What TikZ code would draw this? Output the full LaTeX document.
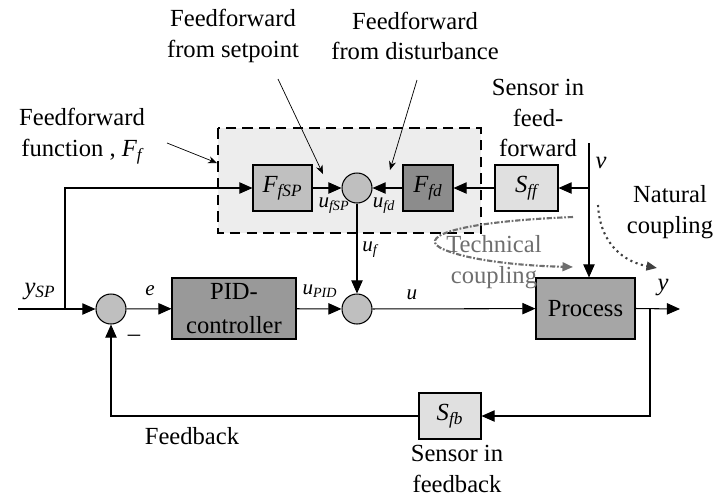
\documentclass[tikz,border=0pt]{standalone}
\usepackage{fontspec}
\setmainfont{Liberation Serif}
\usetikzlibrary{arrows.meta}
\definecolor{sumgray}{HTML}{BFBFBF}
\definecolor{pidgray}{HTML}{999999}
\definecolor{procgray}{HTML}{A6A6A6}
\definecolor{ffspgray}{HTML}{C0C0C0}
\definecolor{ffdgray}{HTML}{8C8C8C}
\definecolor{sensgray}{HTML}{E0E0E0}
\definecolor{ffboxgray}{HTML}{EDEDED}
\definecolor{techgray}{HTML}{6E6E6E}

\tikzset{
  blk/.style={draw, line width=0.6pt, rectangle, inner sep=0pt},
  sumnode/.style={draw, line width=0.6pt, circle, fill=sumgray, minimum size=30*0.02cm, inner sep=0pt},
  sig/.style={line width=0.6pt, -{Triangle[length=7.5pt,width=6.5pt]}},
  pointer/.style={line width=0.4pt, -{Stealth[length=5pt,width=4pt]}},
  lbl/.style={inner sep=0pt, font=\fontsize{12}{14}\selectfont\itshape},
  txt/.style={inner sep=0pt, align=center, font=\fontsize{14}{17.5}\selectfont}
}

\begin{document}
\begin{tikzpicture}[x=0.02cm, y=-0.02cm]
    \useasboundingbox (0,0) rectangle (719,498);
    % feedforward function, dashed area
    \filldraw[fill=ffboxgray, line width=1.4pt, dash pattern=on 6pt off 3.5pt] (218,128) rectangle (481,233);

    % blocks
    \node[sumnode] (sum1) at (111,309) {};
    \node[sumnode] (sum2) at (357,309) {};
    \node[sumnode] (sumff) at (357,188) {};
    \node[blk, fill=pidgray, minimum width=124*0.02cm, minimum height=61*0.02cm, txt] (pid) at (234,308.5) {PID-\\[2pt]controller};
    \node[blk, fill=procgray, minimum width=99*0.02cm, minimum height=61*0.02cm, txt] (proc) at (585.5,308.5) {Process};
    \node[blk, fill=ffspgray, minimum width=59*0.02cm, minimum height=46*0.02cm] (ffsp) at (282.5,188) {\fontsize{14}{17}\selectfont\itshape F\textsubscript{fSP}};
    \node[blk, fill=ffdgray, minimum width=50*0.02cm, minimum height=46*0.02cm] (ffd) at (428,188) {\fontsize{14}{17}\selectfont\itshape F\textsubscript{fd}};
    \node[blk, fill=sensgray, minimum width=63*0.02cm, minimum height=46*0.02cm] (sff) at (526.5,188) {\fontsize{14}{17}\selectfont\itshape S\textsubscript{ff}};
    \node[blk, fill=sensgray, minimum width=62*0.02cm, minimum height=46*0.02cm] (sfb) at (450,416) {\fontsize{14}{17}\selectfont\itshape S\textsubscript{fb}};

    % branch points
    \coordinate (ysp) at (18,309);
    \coordinate (spbr) at (65,309);
    \coordinate (vtop) at (589,143);
    \coordinate (vbr) at (589,188);
    \coordinate (ybr) at (650,309);
    \coordinate (yout) at (680,309);

    % signals
    \draw[sig] (ysp) -- (sum1);
    \draw[sig] (spbr) |- (ffsp);
    \draw[sig] (ffsp) -- (sumff);
    \draw[sig] (ffd) -- (sumff);
    \draw[sig] (sff) -- (ffd);
    \draw[sig] (vbr) -- (sff);
    \draw[sig] (vtop) -- (vtop |- proc.north);
    \draw[sig] (sumff) -- (sum2);
    \draw[sig] (sum1) -- (pid);
    \draw[sig] (pid) -- (sum2);
    \draw[sig] (sum2) -- (proc);
    \draw[sig] (proc.east) -- (yout);
    \draw[sig] (ybr) |- (sfb);
    \draw[sig] (sfb) -| (sum1);

    % signal labels
    \node[lbl] (lysp) at (40,291) {\fontsize{14}{17}\selectfont y\textsubscript{SP}};
    \node[lbl] (le) at (150,291) {e};
    \node[lbl] (lupid) at (320,291) {u\textsubscript{PID}};
    \node[lbl] (lu) at (412,295) {u};
    \node[lbl] (ly) at (663,287) {\fontsize{14}{17}\selectfont y};
    \node[lbl] (luf) at (370,250) {u\textsubscript{f}};
    \node[lbl] (lufsp) at (334,206) {u\textsubscript{fSP}};
    \node[lbl] (lufd) at (384,206) {u\textsubscript{fd}};
    \node[lbl] (lv) at (601,163) {\fontsize{14}{17}\selectfont v};
    \node[txt] (lminus) at (134,338) {--};

    % explanations
    \node[txt] (tfsp) at (233,36) {Feedforward\\from setpoint};
    \node[txt] (tfd) at (415,36) {Feedforward\\from disturbance};
    \node[txt] (tfunc) at (82,136) {Feedforward\\function , \textit{F\textsubscript{f}}};
    \node[txt] (tsff) at (538,118) {Sensor in\\feed-\\forward};
    \node[txt] (tnat) at (670,212) {Natural\\coupling};
    \node[txt, text=techgray] (ttech) at (494,262) {Technical\\coupling};
    \node[txt] (tfb) at (192,436) {Feedback};
    \node[txt] (tsfb) at (457,469) {Sensor in\\feedback};

    \coordinate (pfsp) at (323,174);
    \coordinate (pfd) at (390,170);
    \coordinate (pfunc) at (217,163);
    \draw[pointer] (278,79) -- (pfsp);
    \draw[pointer] (417,80) -- (pfd);
    \draw[pointer] (167,143) -- (pfunc);

    % couplings
    \draw[techgray, line width=1.2pt, dash pattern=on 3pt off 1pt on 1pt off 1pt, -{Triangle[length=6pt,width=5pt]}]
        (573,217) .. controls (450,222) and (415,238) .. (445,250) .. controls (475,262) and (530,266) .. (573,267);
    \draw[black!75, line width=1.2pt, dotted, -{Triangle[length=6pt,width=5pt]}]
        (598,205) .. controls (600,245) and (625,262) .. (657,268);
\end{tikzpicture}
\end{document}
